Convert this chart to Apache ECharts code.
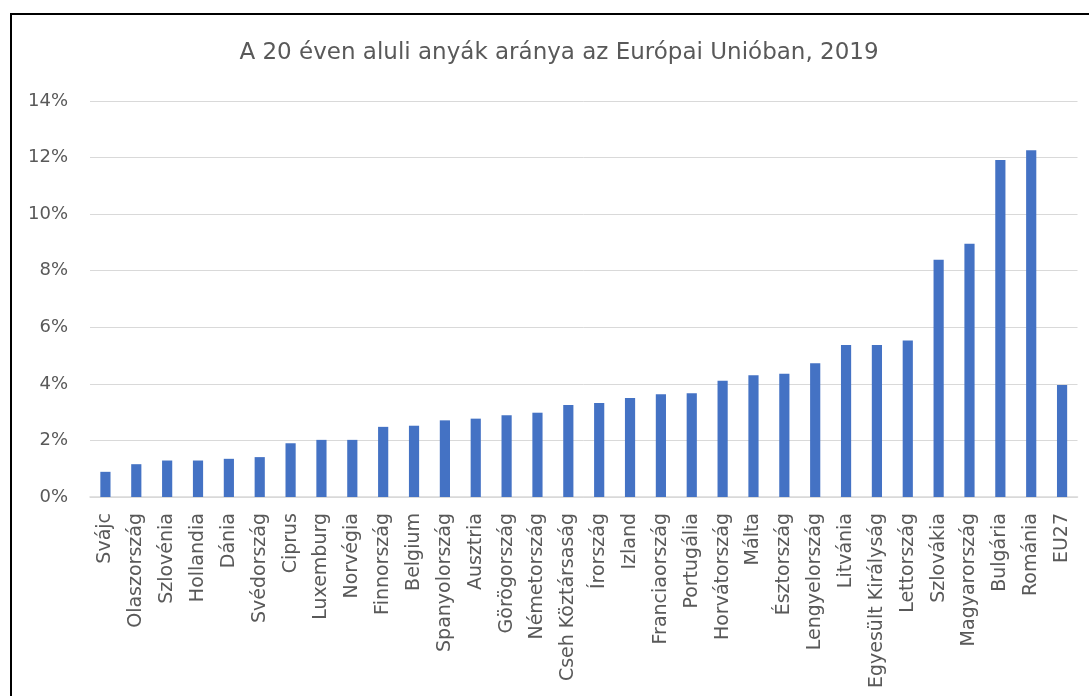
<!DOCTYPE html>
<html>
<head>
<meta charset="utf-8">
<script src="https://cdn.jsdelivr.net/npm/echarts@6/dist/echarts.min.js"></script>
<style>
  html, body { margin: 0; padding: 0; background: #fff; }
  #chart { width: 1089px; height: 696px; }
</style>
</head>
<body>
<div id="chart"></div>
<script>
// Országok, az arány szerint növekvő sorrendben (EU27 a végén)
const countries = [
  'Svájc', 'Olaszország', 'Szlovénia', 'Hollandia', 'Dánia', 'Svédország',
  'Ciprus', 'Luxemburg', 'Norvégia', 'Finnország', 'Belgium', 'Spanyolország',
  'Ausztria', 'Görögország', 'Németország', 'Cseh Köztársaság', 'Írország',
  'Izland', 'Franciaország', 'Portugália', 'Horvátország', 'Málta',
  'Észtország', 'Lengyelország', 'Litvánia', 'Egyesült Királyság',
  'Lettország', 'Szlovákia', 'Magyarország', 'Bulgária', 'Románia', 'EU27'
];

// A 20 éven aluli anyák aránya, %
const shares = [
  0.89, 1.16, 1.29, 1.29, 1.35, 1.41,
  1.90, 2.02, 2.02, 2.48, 2.52, 2.71,
  2.77, 2.89, 2.98, 3.25, 3.32,
  3.50, 3.63, 3.67, 4.11, 4.30,
  4.36, 4.73, 5.37, 5.37,
  5.53, 8.39, 8.95, 11.91, 12.26, 3.96
];

const yTicks = { min: 0, max: 14, step: 2 };

const titleText = 'A 20 éven aluli anyák aránya az Európai Unióban, 2019';

const FONT = 'DejaVu Sans';
const TEXT_GREY = '#595959';
const GRID_GREY = '#d9d9d9';

const chart = echarts.init(document.getElementById('chart'), null, { renderer: 'canvas' });

chart.setOption({
  backgroundColor: '#ffffff',
  animation: false,
  title: {
    text: titleText,
    left: 554,
    top: 37,
    textAlign: 'center',
    textStyle: {
      fontFamily: FONT,
      fontSize: 23,
      fontWeight: 'normal',
      color: TEXT_GREY
    }
  },
  graphic: [{
    type: 'rect',
    shape: { x: 11, y: 14, width: 1100, height: 720 },
    style: { fill: 'none', stroke: '#000000', lineWidth: 2 },
    silent: true
  }],
  grid: {
    left: 90,
    right: 11.5,
    top: 101,
    bottom: 199,
    containLabel: false
  },
  xAxis: {
    type: 'category',
    data: countries,
    axisLine: { show: true, lineStyle: { color: GRID_GREY, width: 1.5 } },
    axisTick: { show: false },
    axisLabel: {
      interval: 0,
      rotate: 90,
      margin: 16,
      fontFamily: FONT,
      fontSize: 19,
      color: TEXT_GREY
    }
  },
  yAxis: {
    type: 'value',
    min: yTicks.min,
    max: yTicks.max,
    interval: yTicks.step,
    axisLine: { show: false },
    axisTick: { show: false },
    splitLine: { show: true, lineStyle: { color: GRID_GREY, width: 1 } },
    axisLabel: {
      formatter: '{value}%',
      margin: 22,
      fontFamily: FONT,
      fontSize: 18,
      color: TEXT_GREY
    }
  },
  series: [{
    type: 'bar',
    data: shares,
    barWidth: '33%',
    itemStyle: { color: '#4472c4' }
  }]
});
</script>
</body>
</html>
